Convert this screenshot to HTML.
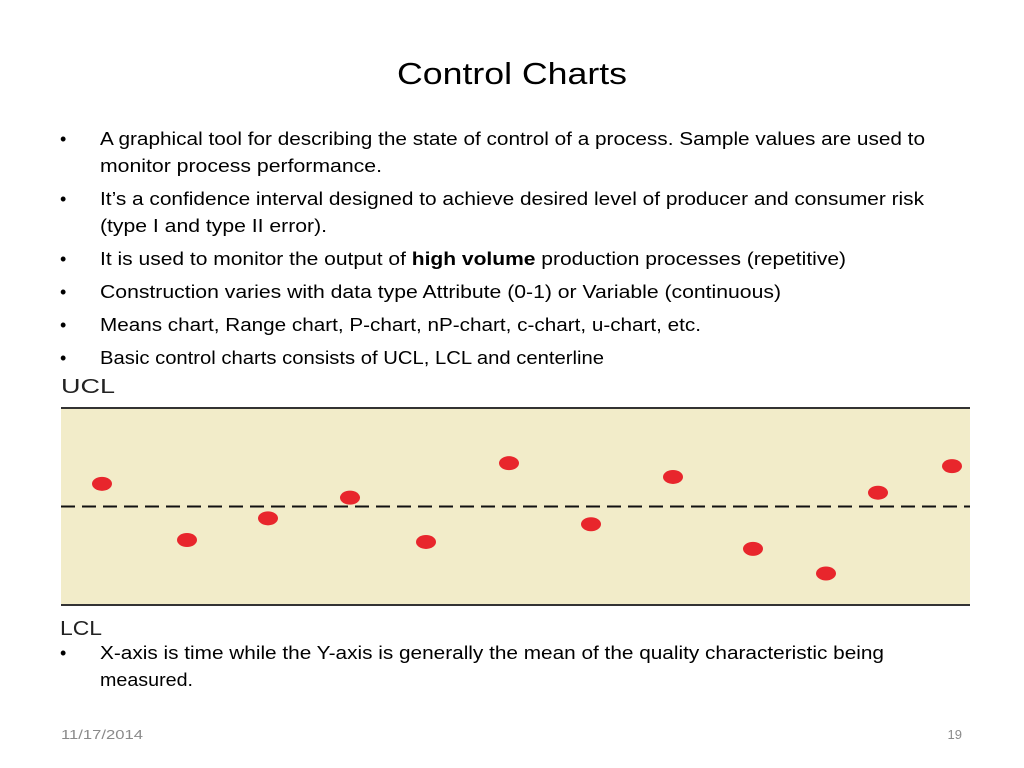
<!DOCTYPE html>
<html><head><meta charset="utf-8"><style>
html,body{margin:0;padding:0;background:#fff;}
svg{display:block;font-family:"Liberation Sans",sans-serif;}
</style></head><body>
<svg id="slide" width="1024" height="768" viewBox="0 0 1024 768">
<text x="512" y="84" text-anchor="middle" font-size="31" textLength="230" lengthAdjust="spacingAndGlyphs" fill="#000">Control Charts</text>
<g font-size="18" fill="#000">
<text x="60" y="145">•</text>
<text x="100" y="145" textLength="825" lengthAdjust="spacingAndGlyphs">A graphical tool for describing the state of control of a process. Sample values are used to</text>
<text x="100" y="172" textLength="282" lengthAdjust="spacingAndGlyphs">monitor process performance.</text>
<text x="60" y="205">•</text>
<text x="100" y="205" textLength="824" lengthAdjust="spacingAndGlyphs">It’s a confidence interval designed to achieve desired level of producer and consumer risk</text>
<text x="100" y="232" textLength="227" lengthAdjust="spacingAndGlyphs">(type I and type II error).</text>
<text x="60" y="265">•</text>
<text x="100" y="265" textLength="746" lengthAdjust="spacingAndGlyphs">It is used to monitor the output of <tspan font-weight="bold">high volume</tspan> production processes (repetitive)</text>
<text x="60" y="298">•</text>
<text x="100" y="298" textLength="681" lengthAdjust="spacingAndGlyphs">Construction varies with data type Attribute (0-1) or Variable (continuous)</text>
<text x="60" y="331">•</text>
<text x="100" y="331" textLength="601" lengthAdjust="spacingAndGlyphs">Means chart, Range chart, P-chart, nP-chart, c-chart, u-chart, etc.</text>
<text x="60" y="364">•</text>
<text x="100" y="364" textLength="504" lengthAdjust="spacingAndGlyphs">Basic control charts consists of UCL, LCL and centerline</text>
<text x="60" y="659">•</text>
<text x="100" y="659" textLength="784" lengthAdjust="spacingAndGlyphs">X-axis is time while the Y-axis is generally the mean of the quality characteristic being</text>
<text x="100" y="686" textLength="93" lengthAdjust="spacingAndGlyphs">measured.</text>
</g>
<g id="chart"></g>
<text x="61" y="739" font-size="13" fill="#8a8a8a" textLength="82" lengthAdjust="spacingAndGlyphs">11/17/2014</text>
<text x="962" y="739" font-size="13" fill="#8a8a8a" text-anchor="end">19</text>
</svg>
<script>
const samples = [1,2,3,4,5,6,7,8,9,10,11,12];
const values = [0.23,-0.34,-0.12,0.09,-0.36,0.44,-0.18,0.30,-0.43,-0.68,0.14,0.41];
const xPositions = [102,187,268,350,426,509,591,673,753,826,878,952];
const NS='http://www.w3.org/2000/svg';
const g=document.getElementById('chart');
const X0=61,X1=970,YU=408,YL=605;
function y(v){return (YU+YL)/2 - v*(YL-YU)/2;}
function x(i){return xPositions[i];}
function mk(t,a){const e=document.createElementNS(NS,t);for(const k in a)e.setAttribute(k,a[k]);g.appendChild(e);return e;}
let e;
e=mk('rect',{x:X0,y:YU,width:X1-X0,height:YL-YU,fill:'#f2ecc9'});


e=mk('line',{x1:X0,x2:X1,y1:YU,y2:YU,stroke:'#333',"stroke-width":2});


e=mk('line',{x1:X0,x2:X1,y1:YL,y2:YL,stroke:'#333',"stroke-width":2});


e=mk('line',{x1:X0,x2:X1,y1:y(0),y2:y(0),stroke:'#111',"stroke-width":2,"stroke-dasharray":"14 7"});


e=mk('text',{x:61,y:393,"font-size":20,fill:'#222',textLength:54,lengthAdjust:'spacingAndGlyphs'});
e.textContent='UCL';


e=mk('text',{x:60,y:635,"font-size":20,fill:'#222',textLength:42,lengthAdjust:'spacingAndGlyphs'});
e.textContent='LCL';


values.forEach((v,i)=>{
  const p=mk('ellipse',{cx:x(i),cy:y(v),rx:10,ry:7,fill:'#e8262c'});
  
  
});
</script>
</body></html>
